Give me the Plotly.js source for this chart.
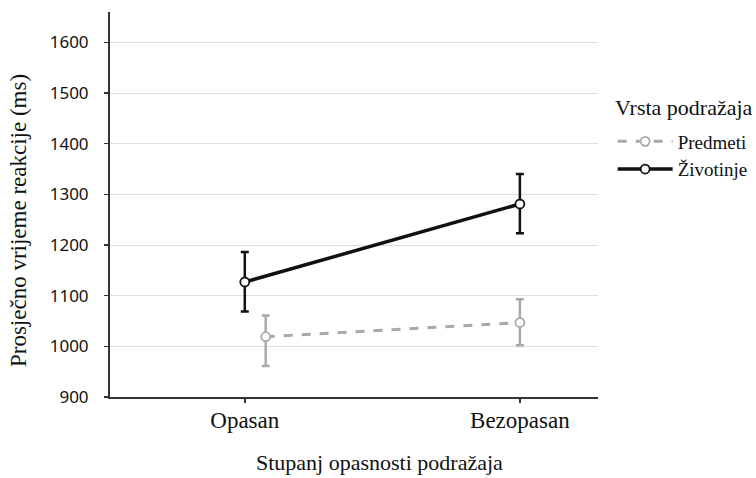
<!DOCTYPE html>
<html>
<head>
<meta charset="utf-8">
<script src="https://cdn.plot.ly/plotly-3.0.1.min.js"></script>
<style>html,body{margin:0;padding:0;background:#fff;}#chart{width:756px;height:478px;}</style>
</head>
<body>
<div id="chart"></div>
<script>
var categories = ["Opasan", "Bezopasan"];
var categoryPos = [0, 1];
var seriesNames = ["Predmeti", "Životinje"];
var legendTitle = "Vrsta podražaja";
var xTitle = "Stupanj opasnosti podražaja";
var yTitle = "Prosječno vrijeme reakcije (ms)";
var predmetiX = [0.076, 1.0];
var predmetiMean = [1019, 1047];
var predmetiErrPlus = [42, 46];
var predmetiErrMinus = [58, 45];
var zivotinjeX = [0, 1];
var zivotinjeMean = [1127, 1281];
var zivotinjeErrPlus = [59, 59];
var zivotinjeErrMinus = [58, 58];
var yTicks = [900, 1000, 1100, 1200, 1300, 1400, 1500, 1600];

var serif = "Liberation Serif";
var sans = "Noto Sans";
var grey = "#a9a9a9";
var black = "#111111";

var traces = [
  {
    x: predmetiX, y: predmetiMean, name: seriesNames[0], type: "scatter", mode: "lines+markers",
    line: {color: grey, width: 3, dash: "dash"},
    marker: {symbol: "circle", size: 9, color: "#ffffff", line: {color: grey, width: 1.8}},
    error_y: {type: "data", symmetric: false, array: predmetiErrPlus, arrayminus: predmetiErrMinus,
              color: grey, thickness: 2.5, width: 4}
  },
  {
    x: zivotinjeX, y: zivotinjeMean, name: seriesNames[1], type: "scatter", mode: "lines+markers",
    line: {color: black, width: 3.5},
    marker: {symbol: "circle", size: 9, color: "#ffffff", line: {color: black, width: 1.8}},
    error_y: {type: "data", symmetric: false, array: zivotinjeErrPlus, arrayminus: zivotinjeErrMinus,
              color: black, thickness: 2.5, width: 4}
  }
];

var layout = {
  width: 756, height: 478,
  font: {family: serif, size: 19, color: black},
  margin: {l: 110, r: 158, t: 12, b: 81, autoexpand: false},
  paper_bgcolor: "#ffffff", plot_bgcolor: "#ffffff",
  showlegend: true,
  xaxis: {
    type: "linear", range: [-0.49, 1.284],
    tickvals: categoryPos, ticktext: categories,
    showgrid: false, zeroline: false,
    showline: true, linecolor: "#333", linewidth: 2,
    ticks: "outside", ticklen: 4, tickwidth: 1.5, tickcolor: "#333",
    tickfont: {family: serif, size: 23, color: black},
    ticklabelstandoff: -3
  },
  yaxis: {
    range: [900, 1660], tickvals: yTicks,
    showgrid: true, gridcolor: "#dedede", gridwidth: 1, zeroline: false,
    showline: true, linecolor: "#333", linewidth: 2,
    ticks: "outside", ticklen: 4, tickwidth: 1.5, tickcolor: "#333",
    tickfont: {family: sans, size: 17, color: black},
    ticklabelstandoff: 12
  },
  legend: {
    x: 1.03, xanchor: "left", y: 0.713, yanchor: "top",
    font: {family: serif, size: 19, color: black},
    itemwidth: 55, tracegroupgap: 0, bgcolor: "rgba(0,0,0,0)"
  },
  annotations: [
    {text: legendTitle, xref: "paper", yref: "paper", x: 1.03, y: 0.752,
     xanchor: "left", yanchor: "middle", showarrow: false,
     font: {family: serif, size: 22, color: black}},
    {text: xTitle, xref: "paper", yref: "paper", x: 0.553, y: -0.171,
     xanchor: "center", yanchor: "middle", showarrow: false,
     font: {family: serif, size: 22, color: black}},
    {text: yTitle, xref: "paper", yref: "paper", x: -0.1885, y: 0.457,
     xanchor: "center", yanchor: "middle", showarrow: false, textangle: -90,
     font: {family: serif, size: 23, color: black}}
  ]
};

Plotly.newPlot("chart", traces, layout, {displayModeBar: false, staticPlot: true});
</script>
</body>
</html>
